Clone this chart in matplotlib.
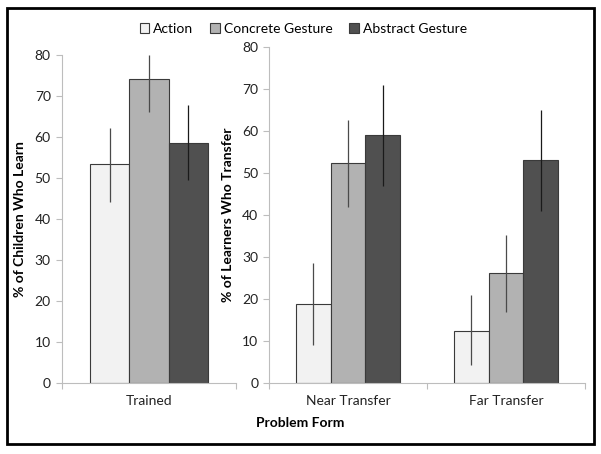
import numpy as np
import matplotlib.pyplot as plt
from matplotlib.patches import Rectangle

plt.rcParams['font.family'] = ['Lato', 'DejaVu Sans']

# datos
conditions = ['Action', 'Concrete Gesture', 'Abstract Gesture']
colors = ['#f2f2f2', '#b2b2b2', '#505050']

trained_mean = [53.3, 74.2, 58.6]
trained_lo = [44.2, 66.2, 49.5]
trained_hi = [62.3, 80.0, 67.7]

transfer_cats = ['Near Transfer', 'Far Transfer']
near_mean = [18.8, 52.3, 59.0]
near_lo = [9.1, 41.9, 47.0]
near_hi = [28.5, 62.7, 71.0]
far_mean = [12.4, 26.1, 53.1]
far_lo = [4.3, 17.0, 41.0]
far_hi = [20.9, 35.2, 65.0]

fig = plt.figure(figsize=(6.01, 4.54), dpi=100)
fig.patches.append(Rectangle((0.012, 0.022), 0.976, 0.96, transform=fig.transFigure,
                             fill=False, edgecolor='black', linewidth=2.0))

ax1 = fig.add_axes([0.103, 0.1564, 0.290, 0.7225])
ax2 = fig.add_axes([0.448, 0.1564, 0.525, 0.740])

def style(ax, ncat, labels):
    for s in ['top', 'right']:
        ax.spines[s].set_visible(False)
    for s in ['left', 'bottom']:
        ax.spines[s].set_color('#bdbdbd')
        ax.spines[s].set_linewidth(0.8)
    ax.set_ylim(0, 80)
    ax.set_xlim(-0.5, ncat - 0.5)
    ax.set_yticks(np.arange(0, 81, 10))
    ax.tick_params(axis='y', direction='out', length=4, color='#bdbdbd',
                   labelsize=10, labelcolor='#222222', pad=4)
    ax.set_xticks(np.arange(ncat + 1) - 0.5)
    ax.set_xticklabels([])
    ax.tick_params(axis='x', which='major', direction='out', length=4, color='#bdbdbd')
    ax.set_xticks(np.arange(ncat), minor=True)
    ax.set_xticklabels(labels, minor=True)
    ax.tick_params(axis='x', which='minor', length=0, labelsize=10,
                   labelcolor='#222222', pad=9)

def bars(ax, x, mean, lo, hi, w):
    for i in range(3):
        xi = x + (i - 1) * w
        ax.bar(xi, mean[i], width=w, color=colors[i], edgecolor='#3a3a3a',
               linewidth=0.8, label=conditions[i] if x == 0 else None, zorder=2)
        # linea de error: gris sobre barras claras, casi negra sobre la oscura
        ax.vlines(xi, lo[i], hi[i], color='#4a4a4a' if i < 2 else '#1a1a1a',
                  linewidth=0.9, zorder=3)

bars(ax1, 0, trained_mean, trained_lo, trained_hi, 0.225)
bars(ax2, 0, near_mean, near_lo, near_hi, 0.22)
bars(ax2, 1, far_mean, far_lo, far_hi, 0.22)

style(ax1, 1, ['Trained'])
style(ax2, 2, transfer_cats)

ax1.set_ylabel('% of Children Who Learn', fontsize=10, fontweight='bold', labelpad=6)
ax2.set_ylabel('% of Learners Who Transfer', fontsize=10, fontweight='bold', labelpad=6)

fig.text(0.5, 0.068, 'Problem Form', ha='center', va='center', fontsize=10, fontweight='bold')

h, l = ax1.get_legend_handles_labels()
fig.legend(h, l, loc='center', bbox_to_anchor=(0.505, 0.937), ncol=3, frameon=False,
           fontsize=10, handlelength=0.7, handleheight=0.7, handletextpad=0.3,
           columnspacing=1.2)

fig.savefig('out.png', dpi=100)
